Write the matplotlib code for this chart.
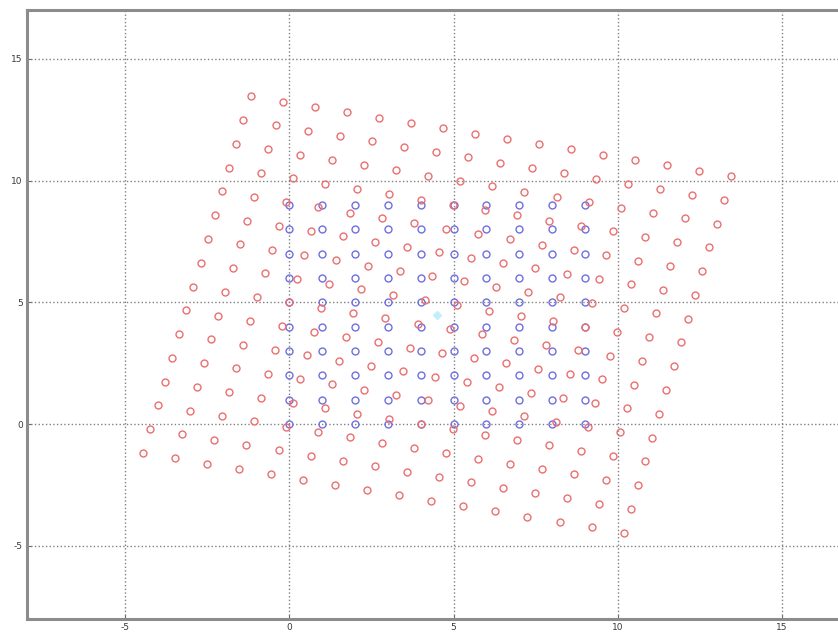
import numpy as np
import matplotlib
matplotlib.use("Agg")
import matplotlib.pyplot as plt
from matplotlib.transforms import Affine2D

plt.rcParams['axes.unicode_minus'] = False

# original lattice: 10 x 10 integer grid
blue_x = [0, 1, 2, 3, 4, 5, 6, 7, 8, 9]
blue_y = [0, 1, 2, 3, 4, 5, 6, 7, 8, 9]

# larger lattice, shown rotated about the centre of the original one
red_x = [-3, -2, -1, 0, 1, 2, 3, 4, 5, 6, 7, 8, 9, 10, 11, 12]
red_y = [-3, -2, -1, 0, 1, 2, 3, 4, 5, 6, 7, 8, 9, 10, 11, 12]
red_angle = -12.6          # degrees
centre = (4.5, 4.5)

xticks = [-5, 0, 5, 10, 15]
yticks = [-5, 0, 5, 10, 15]

fig = plt.figure(figsize=(8.38, 6.35), dpi=100)
ax = fig.add_axes([27 / 838, 16 / 635, 853 / 838, 609 / 635])

bx, by = np.meshgrid(blue_x, blue_y)
ax.plot(bx.ravel(), by.ravel(), 'o', mfc='none', mec='#6f6fe0',
        ms=5.0, mew=1.0, zorder=3)

rx, ry = np.meshgrid(red_x, red_y)
rot = Affine2D().rotate_deg_around(centre[0], centre[1], red_angle)
ax.plot(rx.ravel(), ry.ravel(), 'o', mfc='none', mec='#ea7070',
        ms=5.0, mew=1.0, zorder=4, transform=rot + ax.transData)

ax.plot([centre[0]], [centre[1]], 'D', color='#bff0fb', ms=4, zorder=5)

ax.set_xlim(-8, 18)
ax.set_ylim(-8, 17)
ax.set_xticks(xticks)
ax.set_yticks(yticks)
ax.grid(True, linestyle=':', color='#808080', linewidth=1.0)
ax.set_axisbelow(True)

for s in ax.spines.values():
    s.set_color('#8c8c8c')
    s.set_linewidth(2.2)

ax.tick_params(direction='in', length=3, width=0.8, color='#666666',
               labelsize=6.5, labelcolor='#3a3a3a', pad=3)

fig.savefig('out.png', dpi=100)
